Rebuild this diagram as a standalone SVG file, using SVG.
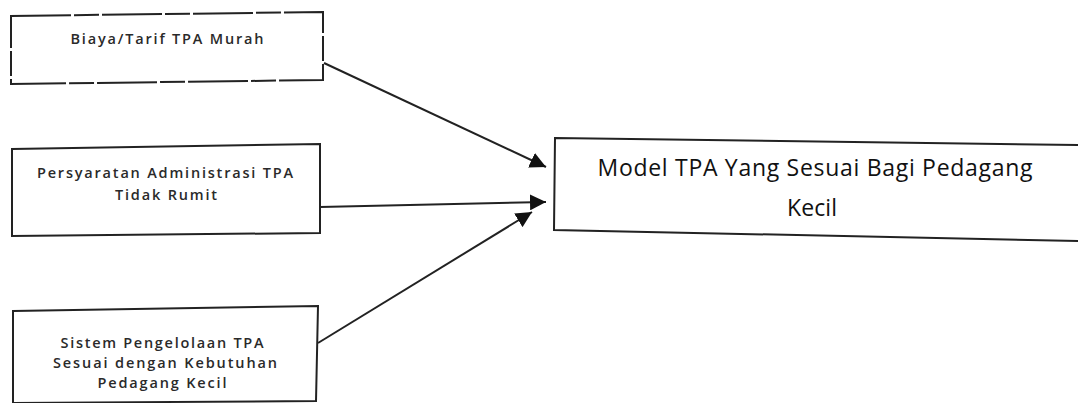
<svg xmlns="http://www.w3.org/2000/svg" width="1078" height="403" viewBox="0 0 1078 403">
<style>
.box{fill:#fff;stroke:#222;stroke-width:2}
.dash{stroke-dasharray:60 3 25 3}
.t{font-family:"Open Sans","Noto Sans",sans-serif;font-size:14.5px;font-weight:600;fill:#2a2a2a;text-anchor:middle}
.tm{font-family:"Open Sans","Noto Sans",sans-serif;font-size:23px;fill:#111;text-anchor:middle}
.c{stroke:#222;stroke-width:2;fill:none;marker-end:url(#ah)}
</style>
<defs>
<marker id="ah" viewBox="0 0 10 10" refX="10" refY="5" markerWidth="16" markerHeight="16" markerUnits="userSpaceOnUse" orient="auto">
<path d="M0,0 L10,5 L0,10 z" fill="#111"/>
</marker>
</defs>
<rect width="1078" height="403" fill="#fff"/>
<g id="n1">
<polygon class="box dash" points="11,16 323,12 323,80 11,84"/>
<text class="t" x="167" y="44" textLength="193" lengthAdjust="spacing">Biaya/Tarif TPA Murah</text>
</g>
<g id="n2">
<polygon class="box" points="12,149 320,144 320,233 12,236"/>
<text class="t" x="165" y="178" textLength="256" lengthAdjust="spacing">Persyaratan Administrasi  TPA</text>
<text class="t" x="166" y="200" textLength="102" lengthAdjust="spacing">Tidak Rumit</text>
</g>
<g id="n3">
<polygon class="box" points="13,311 318,306 316,401 13,403"/>
<text class="t" x="162" y="348" textLength="203" lengthAdjust="spacing">Sistem Pengelolaan TPA</text>
<text class="t" x="165" y="368" textLength="224" lengthAdjust="spacing">Sesuai dengan Kebutuhan</text>
<text class="t" x="162" y="388" textLength="129" lengthAdjust="spacing">Pedagang Kecil</text>
</g>
<g id="n4">
<polygon class="box" points="555,138 1080,145 1080,241 554,230"/>
<text class="tm" x="815" y="176" textLength="435" lengthAdjust="spacing">Model TPA Yang Sesuai  Bagi Pedagang</text>
<text class="tm" x="812" y="216" textLength="50" lengthAdjust="spacing">Kecil</text>
</g>
<g id="connectors">
<line class="c" x1="324" y1="63" x2="546" y2="167"/>
<line class="c" x1="320" y1="207" x2="546" y2="202"/>
<line class="c" x1="318" y1="343" x2="532" y2="212"/>
</g>
</svg>
